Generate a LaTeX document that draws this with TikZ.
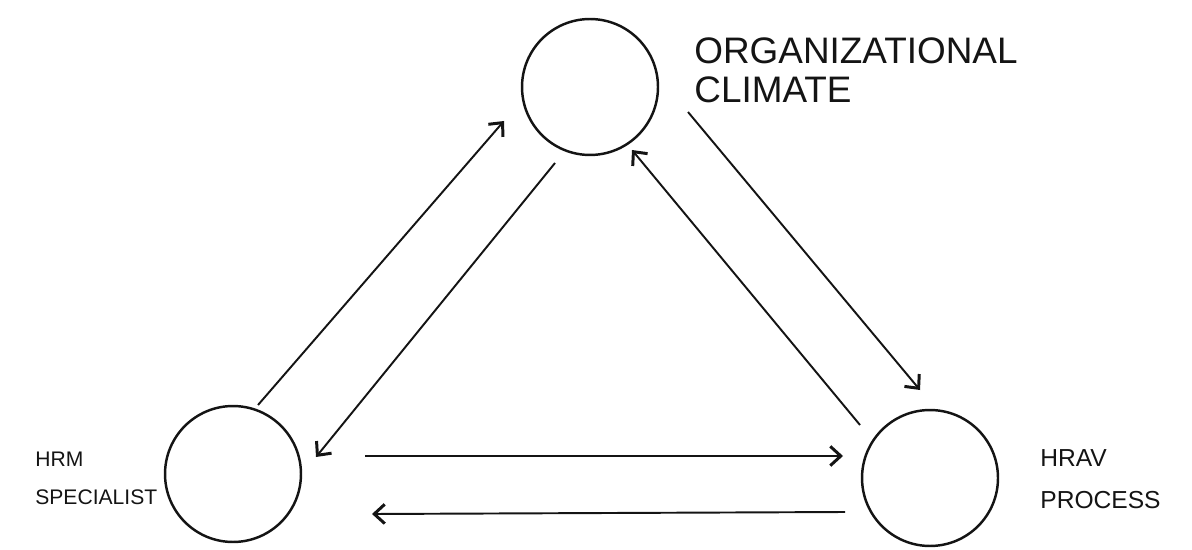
\documentclass[tikz,border=0pt]{standalone}
\usepackage{fontspec}
\setmainfont{Liberation Sans}
\usepackage{tikz}
\usetikzlibrary{arrows.meta,calc,positioning}
\definecolor{inkLine}{RGB}{20,20,20}

\begin{document}
\begin{tikzpicture}[x=0.02cm,y=-0.02cm,
  hub/.style={circle,draw=inkLine,line width=1.4pt,minimum size=2.72cm,inner sep=0pt},
  link/.style={-{Straight Barb[length=6pt,width=11pt,line width=1.7pt]},draw=inkLine,line width=1.1pt},
  tag/.style={align=left,inner sep=0pt,text=inkLine}]
  \useasboundingbox (0,0) rectangle (1192,550);
  % the three circles
  \node[hub] (climate) at (590,87) {};
  \node[hub] (hrm) at (233,474) {};
  \node[hub] (hrav) at (930,478) {};
  % labels
  \node[tag,anchor=north west,font=\fontsize{21}{22.5}\selectfont] (climatetag) at (694,37) {ORGANIZATIONAL\\CLIMATE};
  \node[tag,anchor=north west,font=\fontsize{12}{21.5}\selectfont] (hrmtag) at (35,452) {HRM\\SPECIALIST};
  \node[tag,anchor=north west,font=\fontsize{14}{24}\selectfont] (hravtag) at (1040,449) {HRAV\\PROCESS};
  % arrows between the circles
  \draw[link] ($(hrm)+(25,-69)$) -- ($(climate)+(-86,34)$);
  \draw[link] ($(climate)+(-35,76)$) -- ($(hrm)+(83,-17)$);
  \draw[link] ($(hrav)+(-70,-53)$) -- ($(climate)+(42,63)$);
  \draw[link] ($(climate)+(98,25)$) -- ($(hrav)+(-10,-88)$);
  \draw[link] ($(hrm)+(132,-18)$) -- ($(hrav)+(-87,-22)$);
  \draw[link] ($(hrav)+(-85,34)$) -- ($(hrm)+(139,40)$);
\end{tikzpicture}
\end{document}
